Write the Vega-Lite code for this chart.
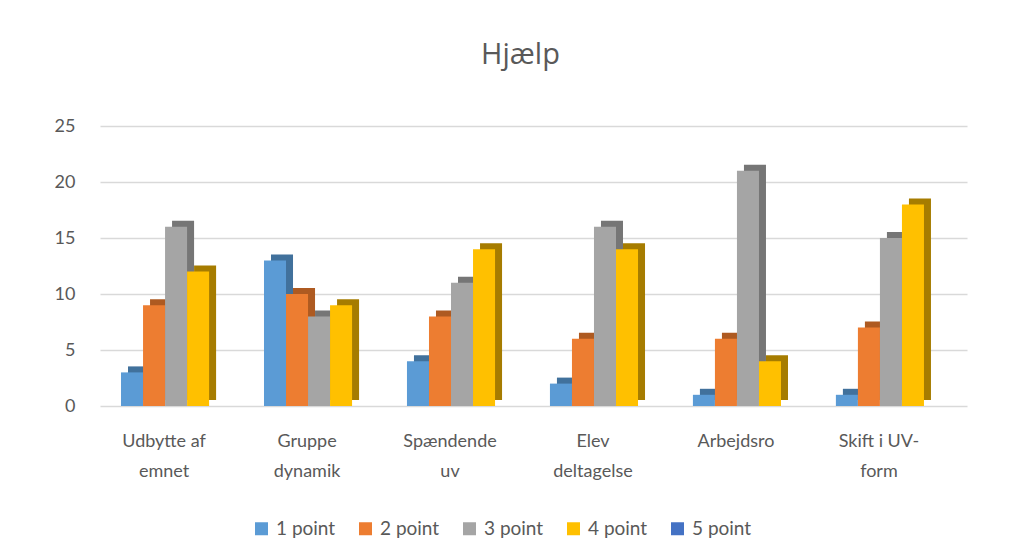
{
  "$schema": "https://vega.github.io/schema/vega-lite/v6.json",
  "autosize": {"type": "none"},
  "width": 867,
  "height": 280,
  "padding": {"left": 100, "top": 126, "right": 55, "bottom": 154},
  "background": "white",
  "title": {"text": "Hjælp", "fontSize": 29, "font": "Open Sans", "fontWeight": "normal", "color": "#595959", "anchor": "middle", "dx": -13, "offset": 47},
  "data": {"values": [
    {"kategori": "Udbytte af emnet", "serie": "1 point", "antal": 3},
    {"kategori": "Udbytte af emnet", "serie": "2 point", "antal": 9},
    {"kategori": "Udbytte af emnet", "serie": "3 point", "antal": 16},
    {"kategori": "Udbytte af emnet", "serie": "4 point", "antal": 12},
    {"kategori": "Udbytte af emnet", "serie": "5 point", "antal": 0},
    {"kategori": "Gruppe dynamik", "serie": "1 point", "antal": 13},
    {"kategori": "Gruppe dynamik", "serie": "2 point", "antal": 10},
    {"kategori": "Gruppe dynamik", "serie": "3 point", "antal": 8},
    {"kategori": "Gruppe dynamik", "serie": "4 point", "antal": 9},
    {"kategori": "Gruppe dynamik", "serie": "5 point", "antal": 0},
    {"kategori": "Spændende uv", "serie": "1 point", "antal": 4},
    {"kategori": "Spændende uv", "serie": "2 point", "antal": 8},
    {"kategori": "Spændende uv", "serie": "3 point", "antal": 11},
    {"kategori": "Spændende uv", "serie": "4 point", "antal": 14},
    {"kategori": "Spændende uv", "serie": "5 point", "antal": 0},
    {"kategori": "Elev deltagelse", "serie": "1 point", "antal": 2},
    {"kategori": "Elev deltagelse", "serie": "2 point", "antal": 6},
    {"kategori": "Elev deltagelse", "serie": "3 point", "antal": 16},
    {"kategori": "Elev deltagelse", "serie": "4 point", "antal": 14},
    {"kategori": "Elev deltagelse", "serie": "5 point", "antal": 0},
    {"kategori": "Arbejdsro", "serie": "1 point", "antal": 1},
    {"kategori": "Arbejdsro", "serie": "2 point", "antal": 6},
    {"kategori": "Arbejdsro", "serie": "3 point", "antal": 21},
    {"kategori": "Arbejdsro", "serie": "4 point", "antal": 4},
    {"kategori": "Arbejdsro", "serie": "5 point", "antal": 0},
    {"kategori": "Skift i UV-form", "serie": "1 point", "antal": 1},
    {"kategori": "Skift i UV-form", "serie": "2 point", "antal": 7},
    {"kategori": "Skift i UV-form", "serie": "3 point", "antal": 15},
    {"kategori": "Skift i UV-form", "serie": "4 point", "antal": 18},
    {"kategori": "Skift i UV-form", "serie": "5 point", "antal": 0}
  ]},
  "encoding": {
    "x": {
      "field": "kategori", "type": "nominal", "sort": null, "title": null,
      "scale": {"paddingInner": 0.23, "paddingOuter": 0.147},
      "axis": {
        "labelAngle": 0, "domain": false, "ticks": false, "labelFont": "Lato", "labelFontSize": 18,
        "labelColor": "#595959", "labelPadding": 26, "labelLineHeight": 30, "labelOffset": -12,
        "labelExpr": "datum.label == 'Udbytte af emnet' ? ['Udbytte af', 'emnet'] : datum.label == 'Gruppe dynamik' ? ['Gruppe', 'dynamik'] : datum.label == 'Spændende uv' ? ['Spændende', 'uv'] : datum.label == 'Elev deltagelse' ? ['Elev', 'deltagelse'] : datum.label == 'Skift i UV-form' ? ['Skift i UV-', 'form'] : datum.label"
      }
    },
    "y": {
      "field": "antal", "type": "quantitative", "title": null,
      "scale": {"domain": [0, 25], "nice": false},
      "axis": {
        "values": [0, 5, 10, 15, 20, 25], "domain": false, "ticks": false, "labelFont": "Lato",
        "labelFontSize": 18, "labelColor": "#595959", "labelPadding": 25,
        "gridColor": "#d9d9d9", "gridWidth": 1.5
      }
    }
  },
  "layer": [
    {
      "mark": {"type": "bar", "yOffset": -6},
      "encoding": {
        "xOffset": {"field": "serie", "type": "nominal", "scale": {"range": [7, 117.1], "paddingInner": 0, "paddingOuter": 0}},
        "color": {
          "field": "serie", "type": "nominal", "legend": null,
          "scale": {"domain": ["1 point", "2 point", "3 point", "4 point", "5 point"], "range": ["#41719C", "#AE5A21", "#767676", "#A67C00", "#2F5597"]}
        }
      }
    },
    {
      "mark": {"type": "bar"},
      "encoding": {
        "xOffset": {"field": "serie", "type": "nominal", "scale": {"range": [0, 110.1], "paddingInner": 0, "paddingOuter": 0}},
        "color": {
          "field": "serie", "type": "nominal",
          "scale": {"domain": ["1 point", "2 point", "3 point", "4 point", "5 point"], "range": ["#5B9BD5", "#ED7D31", "#A5A5A5", "#FFC000", "#4472C4"]},
          "legend": {
            "title": null, "orient": "none", "direction": "horizontal", "legendX": 152, "legendY": 393,
            "symbolType": "square", "symbolSize": 169, "symbolStrokeWidth": 0, "labelFont": "Lato",
            "labelFontSize": 19, "labelColor": "#595959", "columnPadding": 20, "labelOffset": 5
          }
        }
      }
    }
  ],
  "resolve": {"scale": {"color": "independent", "xOffset": "independent"}},
  "config": {"view": {"stroke": null}}
}
